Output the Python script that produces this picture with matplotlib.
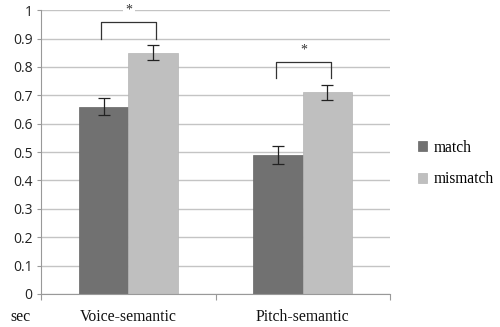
import numpy as np
import matplotlib
matplotlib.use('Agg')
import matplotlib.pyplot as plt

# Data
categories = ['Voice-semantic', 'Pitch-semantic']
match_vals = [0.66, 0.49]
mismatch_vals = [0.85, 0.71]
match_err = [0.03, 0.032]
mismatch_err = [0.027, 0.027]
series_names = ['match', 'mismatch']
yticks = [0, 0.1, 0.2, 0.3, 0.4, 0.5, 0.6, 0.7, 0.8, 0.9, 1]
ytick_labels = ['0', '0.1', '0.2', '0.3', '0.4', '0.5', '0.6', '0.7', '0.8', '0.9', '1']
# significance brackets: (top of bracket, bottom of legs, star y)
brackets = [(0.957, 0.897, 1.0), (0.818, 0.762, 0.86)]

dark = '#717171'
light = '#bfbfbf'
grid_col = '#c4c4c4'

fig = plt.figure(figsize=(5, 3.27), dpi=100)
ax = fig.add_axes([0.082, 0.101, 0.698, 0.868])

x = np.arange(len(categories))
w = 0.283
ax.bar(x - w / 2, match_vals, w, color=dark, edgecolor='#666666', linewidth=0.5,
       label=series_names[0], zorder=2)
ax.bar(x + w / 2, mismatch_vals, w, color=light, edgecolor='#b5b5b5', linewidth=0.5,
       label=series_names[1], zorder=2)
ax.errorbar(x - w / 2, match_vals, yerr=match_err, fmt='none', ecolor='#222222',
            elinewidth=0.9, capsize=4, capthick=0.9, zorder=3)
ax.errorbar(x + w / 2, mismatch_vals, yerr=mismatch_err, fmt='none', ecolor='#222222',
            elinewidth=0.9, capsize=4, capthick=0.9, zorder=3)

# brackets with asterisks
for i, (top, bot, sy) in enumerate(brackets):
    x0 = x[i] - w / 2 - 0.013
    x1 = x[i] + w / 2 + 0.02
    ax.plot([x0, x0, x1, x1], [bot, top, top, bot], color='#333333', lw=0.9, zorder=3,
            solid_joinstyle='round')
    ax.text((x0 + x1) / 2, sy, '*', ha='center', va='center', fontsize=10,
            family='Liberation Serif', color='#333333', zorder=4, clip_on=False,
            bbox=dict(boxstyle='square,pad=0.2', fc='white', ec='none'))

ax.set_xlim(-0.5, 1.5)
ax.set_ylim(0, 1)
ax.set_yticks(yticks)
ax.set_yticklabels(ytick_labels, family='Open Sans', fontsize=10, color='#222222')
ax.yaxis.grid(True, color=grid_col, lw=1, zorder=0)
ax.set_axisbelow(True)

ax.set_xticks([-0.5, 0.5, 1.5])
ax.set_xticklabels([])
ax.set_xticks(x, minor=True)
ax.set_xticklabels(categories, minor=True, family='Liberation Serif', fontsize=11.3,
                   color='#111111')
ax.tick_params(axis='x', which='minor', length=0, pad=11)
ax.tick_params(axis='x', which='major', length=4, color='#999999')
ax.tick_params(axis='y', length=3, color='#999999', pad=3)

for s in ['top', 'right']:
    ax.spines[s].set_visible(False)
ax.spines['left'].set_color('#999999')
ax.spines['bottom'].set_color('#999999')

fig.text(0.02, 0.03, 'sec', family='Liberation Serif', fontsize=11.3, color='#111111',
         va='center')

leg = ax.legend(loc='center left', bbox_to_anchor=(1.04, 0.46), frameon=False,
                prop={'family': 'Liberation Serif', 'size': 11.2}, handlelength=0.6,
                handleheight=0.6, handletextpad=0.4, labelspacing=1.0)

fig.savefig('out.png', dpi=100)
